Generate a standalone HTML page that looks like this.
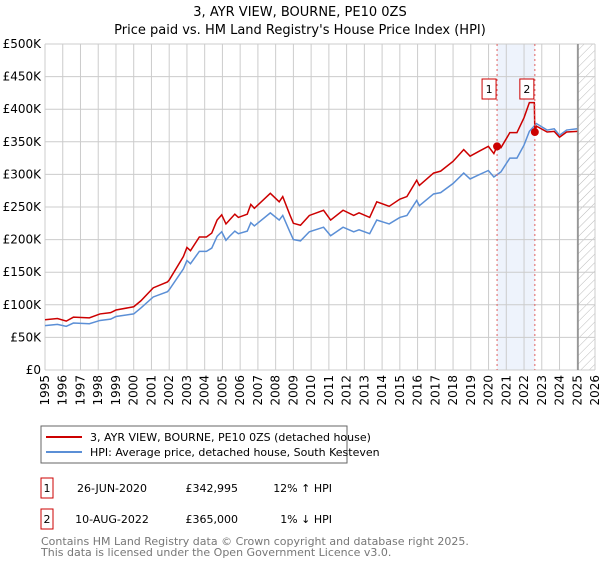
<!DOCTYPE html>
<html><head><meta charset="utf-8"><style>
body{margin:0;background:#fff;font-family:"DejaVu Sans","Liberation Sans",sans-serif;}
svg text{font-family:"DejaVu Sans","Liberation Sans",sans-serif;}
</style></head><body>
<svg id="c" width="600" height="560" viewBox="0 0 600 560">
<defs><pattern id="hatch" width="6" height="6" patternUnits="userSpaceOnUse" patternTransform="rotate(45)"><line x1="0" y1="0" x2="0" y2="6" stroke="#bbb" stroke-width="1"/></pattern></defs>
<text x="300" y="16" text-anchor="middle" font-size="13">3, AYR VIEW, BOURNE, PE10 0ZS</text>
<text x="300" y="34" text-anchor="middle" font-size="13">Price paid vs. HM Land Registry's House Price Index (HPI)</text>
<g id="grid"></g><g id="series"></g><g id="marks"></g>
<rect x="41" y="426" width="306" height="37" fill="#fff" stroke="#666"/>
<line x1="46" y1="437" x2="82" y2="437" stroke="#cc0000" stroke-width="2"/>
<text x="90" y="441" font-size="11">3, AYR VIEW, BOURNE, PE10 0ZS (detached house)</text>
<line x1="46" y1="452" x2="82" y2="452" stroke="#5b8fd6" stroke-width="2"/>
<text x="90" y="456" font-size="11">HPI: Average price, detached house, South Kesteven</text>
<g font-size="11">
<rect x="41" y="478" width="12" height="20" fill="none" stroke="#cc0000"/>
<text x="47" y="492" text-anchor="middle">1</text>
<text x="112" y="492" text-anchor="middle">26-JUN-2020</text>
<text x="238" y="492" text-anchor="end">£342,995</text>
<text x="332" y="492" text-anchor="end">12% ↑ HPI</text>
<rect x="41" y="509" width="12" height="20" fill="none" stroke="#cc0000"/>
<text x="47" y="523" text-anchor="middle">2</text>
<text x="112" y="523" text-anchor="middle">10-AUG-2022</text>
<text x="238" y="523" text-anchor="end">£365,000</text>
<text x="332" y="523" text-anchor="end">1% ↓ HPI</text>
</g>
<text x="41" y="545" font-size="11" fill="#777">Contains HM Land Registry data © Crown copyright and database right 2025.</text>
<text x="41" y="556" font-size="11" fill="#777">This data is licensed under the Open Government Licence v3.0.</text>
</svg>
<script>
const yTicks=[0,50000,100000,150000,200000,250000,300000,350000,400000,450000,500000];
const yTickLabels=["£0","£50K","£100K","£150K","£200K","£250K","£300K","£350K","£400K","£450K","£500K"];
const xYears=[1995,1996,1997,1998,1999,2000,2001,2002,2003,2004,2005,2006,2007,2008,2009,2010,2011,2012,2013,2014,2015,2016,2017,2018,2019,2020,2021,2022,2023,2024,2025,2026];
const hpiDates=[1995,1995.7,1996.2,1996.6,1997.5,1998.1,1998.7,1999.0,2000.0,2000.4,2001.1,2001.9,2002.0,2002.8,2003.0,2003.2,2003.7,2004.1,2004.4,2004.7,2004.96,2005.2,2005.4,2005.7,2005.9,2006.4,2006.6,2006.8,2007.7,2008.2,2008.4,2008.8,2009.0,2009.4,2009.9,2010.7,2011.1,2011.8,2012.4,2012.7,2013.3,2013.7,2014.4,2015.0,2015.4,2015.95,2016.1,2016.9,2017.3,2018.0,2018.6,2018.96,2019.5,2019.99,2020.3,2020.7,2021.2,2021.6,2022.0,2022.3,2022.7,2023.3,2023.7,2024.0,2024.4,2025.0];
const hpiValues=[68,70,67,72,71,76,78,82,86,95,112,120,123,155,168,163,182,182,187,205,212,199,205,213,209,213,226,221,241,230,237,212,200,198,212,219,206,219,212,215,209,230,224,234,237,260,252,270,272,286,302,293,300,306,296,304,325,325,345,366,378,368,370,360,368,370];
const propDates=[1995,1995.7,1996.2,1996.6,1997.5,1998.1,1998.7,1999.0,2000.0,2000.4,2001.1,2001.9,2002.0,2002.8,2003.0,2003.2,2003.7,2004.1,2004.4,2004.7,2004.96,2005.2,2005.4,2005.7,2005.9,2006.4,2006.6,2006.8,2007.7,2008.2,2008.4,2008.8,2009.0,2009.4,2009.9,2010.7,2011.1,2011.8,2012.4,2012.7,2013.3,2013.7,2014.4,2015.0,2015.4,2015.95,2016.1,2016.9,2017.3,2018.0,2018.6,2018.96,2019.5,2019.99,2020.3,2020.48,2020.7,2021.2,2021.6,2022.0,2022.3,2022.58,2022.61,2022.7,2023.3,2023.7,2024.0,2024.4,2025.0];
const propValues=[77,79,75,81,80,86,88,92,97,106,126,135,138,174,188,183,204,204,210,230,238,224,230,239,234,239,254,248,271,258,266,238,225,222,237,245,230,245,237,241,234,258,251,262,266,291,283,302,305,320,338,328,336,343,332,343,341,364,364,387,410,410,365,374,365,366,357,365,366];
const sales=[{d:2020.48,v:342995,l:"1"},{d:2022.61,v:365000,l:"2"}];
const X0=45,X1=595,Y0=370,Y1=44;
const xs=y=>X0+(y-1995)/31*(X1-X0);
const ys=v=>Y0-v/500000*(Y0-Y1);
const NS="http://www.w3.org/2000/svg";
function mk(t,a,p){const e=document.createElementNS(NS,t);for(const k in a)e.setAttribute(k,a[k]);p.appendChild(e);return e;}
const g=document.getElementById('grid');
const sh=mk('rect',{x:xs(sales[0].d),y:Y1,width:xs(sales[1].d)-xs(sales[0].d),height:Y0-Y1,fill:'#eef3fc'},g);


const ht=mk('rect',{x:xs(2025.04),y:Y1,width:X1-xs(2025.04),height:Y0-Y1,fill:'url(#hatch)'},g);


yTicks.forEach((t,i)=>{
 const l=mk('line',{x1:X0,x2:X1,y1:ys(t),y2:ys(t),stroke:'#ccc'},g);
 
 
 const tx=mk('text',{x:41,y:ys(t)+4,'text-anchor':'end','font-size':12},g);
 tx.textContent=yTickLabels[i];
 
 
});
xYears.forEach(yr=>{
 const l=mk('line',{x1:xs(yr),x2:xs(yr),y1:Y1,y2:Y0,stroke:'#ccc'},g);
 
 
 const tx=mk('text',{x:0,y:0,'text-anchor':'end','font-size':12,transform:`translate(${xs(yr)+4},${Y0+5}) rotate(-90)`},g);
 tx.textContent=yr;
 
 
});
const vl=mk('line',{x1:xs(2025.04),x2:xs(2025.04),y1:Y1,y2:Y0,stroke:'#888','stroke-width':1.5},g);


const s=document.getElementById('series');
const hp=mk('polyline',{points:hpiDates.map((d,i)=>xs(d)+','+ys(hpiValues[i]*1000)).join(' '),fill:'none',stroke:'#5b8fd6','stroke-width':1.5},s);


const pp=mk('polyline',{points:propDates.map((d,i)=>xs(d)+','+ys(propValues[i]*1000)).join(' '),fill:'none',stroke:'#cc0000','stroke-width':1.5},s);


const m=document.getElementById('marks');
sales.forEach(sa=>{
 const l=mk('line',{x1:xs(sa.d),x2:xs(sa.d),y1:Y1,y2:Y0,stroke:'#e06060','stroke-dasharray':'2,3'},m);
 
 
 const c=mk('circle',{cx:xs(sa.d),cy:ys(sa.v),r:4,fill:'#cc0000'},m);
 
 
 const b=mk('rect',{x:xs(sa.d)-15,y:79,width:14,height:20,fill:'#fff',stroke:'#cc0000'},m);
 
 
 const t=mk('text',{x:xs(sa.d)-8,y:93,'text-anchor':'middle','font-size':11},m);
 t.textContent=sa.l;
 
 
});
</script>
</body></html>
